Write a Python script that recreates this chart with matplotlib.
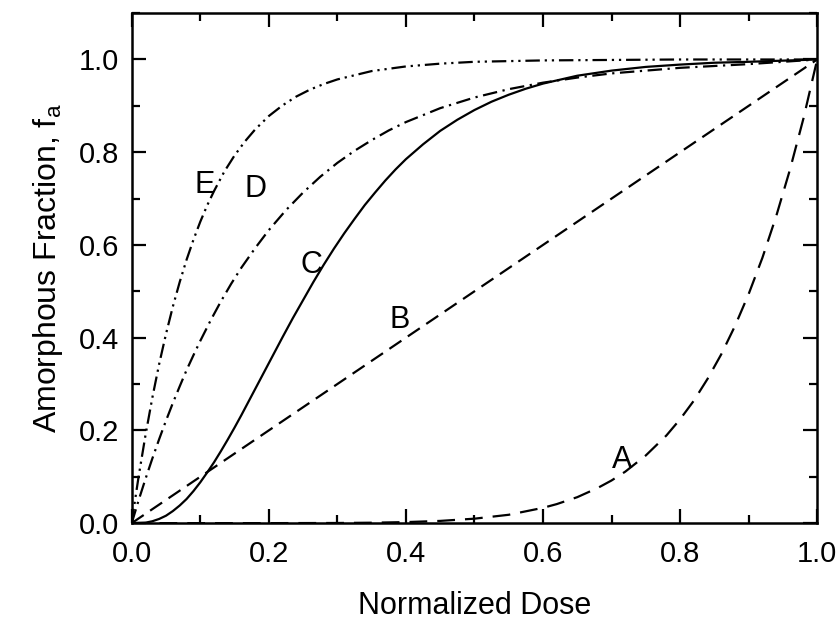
import numpy as np
import matplotlib
matplotlib.use("Agg")
import matplotlib.pyplot as plt
from matplotlib.ticker import MultipleLocator

plt.rcParams['font.family'] = ['Liberation Sans', 'DejaVu Sans']

# values
xA = [0.0, 0.2, 0.3, 0.35, 0.4, 0.45, 0.5, 0.55, 0.6, 0.62, 0.65, 0.68, 0.7, 0.72, 0.75, 0.78,
      0.8, 0.82, 0.84, 0.86, 0.88, 0.9, 0.92, 0.94, 0.96, 0.98, 1.0]
yA = [0.0, 0.0, 0.0003, 0.0009, 0.0022, 0.0048, 0.0096, 0.018, 0.033, 0.041, 0.056, 0.076, 0.092, 0.111, 0.146, 0.189,
      0.224, 0.264, 0.311, 0.364, 0.425, 0.494, 0.572, 0.661, 0.761, 0.873, 1.0]

xB = [0.0, 1.0]
yB = [0.0, 1.0]

xC = [0.0, 0.02, 0.03, 0.04, 0.05, 0.06, 0.07, 0.08, 0.09, 0.10, 0.11, 0.12, 0.13, 0.14, 0.15, 0.16,
      0.17, 0.18, 0.19, 0.20, 0.22, 0.235, 0.25, 0.265, 0.28, 0.295, 0.31, 0.325, 0.34, 0.355, 0.37,
      0.385, 0.40, 0.425, 0.45, 0.475, 0.50, 0.525, 0.55, 0.575, 0.60, 0.65, 0.70, 0.75, 0.80, 0.85,
      0.90, 1.0]
yC = [0.0, 0.001, 0.004, 0.009, 0.016, 0.026, 0.038, 0.052, 0.069, 0.088, 0.109, 0.131, 0.155, 0.180, 0.206, 0.233,
      0.261, 0.289, 0.317, 0.345, 0.401, 0.442, 0.481, 0.520, 0.557, 0.592, 0.625, 0.656, 0.686, 0.713, 0.739,
      0.763, 0.785, 0.817, 0.846, 0.870, 0.891, 0.909, 0.924, 0.937, 0.948, 0.965, 0.976, 0.984, 0.989, 0.993,
      0.995, 1.0]

xD = [0.0, 0.01, 0.02, 0.03, 0.04, 0.05, 0.06, 0.07, 0.08, 0.09, 0.10, 0.115, 0.13, 0.145, 0.16, 0.18,
      0.20, 0.225, 0.25, 0.275, 0.30, 0.325, 0.35, 0.375, 0.40, 0.45, 0.50, 0.55, 0.60, 0.65, 0.70,
      0.75, 0.80, 0.90, 1.0]
yD = [0.0, 0.049, 0.095, 0.139, 0.181, 0.221, 0.259, 0.295, 0.330, 0.362, 0.393, 0.437, 0.478, 0.516, 0.551, 0.593,
      0.632, 0.675, 0.713, 0.747, 0.777, 0.803, 0.826, 0.847, 0.865, 0.895, 0.918, 0.936, 0.950, 0.961, 0.970,
      0.976, 0.982, 0.990, 1.0]

xE = [0.0, 0.005, 0.01, 0.02, 0.03, 0.04, 0.05, 0.06, 0.07, 0.08, 0.09, 0.10, 0.11, 0.12, 0.135, 0.15,
      0.165, 0.18, 0.20, 0.22, 0.24, 0.26, 0.28, 0.30, 0.35, 0.40, 0.45, 0.50, 0.60, 0.80, 1.0]
yE = [0.0, 0.051, 0.100, 0.189, 0.270, 0.343, 0.408, 0.467, 0.520, 0.568, 0.611, 0.650, 0.685, 0.716, 0.758, 0.793,
      0.823, 0.849, 0.878, 0.901, 0.920, 0.935, 0.947, 0.957, 0.975, 0.985, 0.991, 0.995, 0.998, 1.0, 1.0]

labels = ['A', 'B', 'C', 'D', 'E']
label_x = [0.715, 0.391, 0.262, 0.18, 0.107]
label_y = [0.136, 0.438, 0.557, 0.72, 0.73]

fig = plt.figure(figsize=(8.39, 6.25), dpi=100)
ax = fig.add_axes([0.157, 0.163, 0.817, 0.816])

lw = 1.6
ax.plot(xA, yA, color='black', lw=lw, dashes=(8, 4.5))
ax.plot(xB, yB, color='black', lw=lw, dashes=(6.5, 3.5))
ax.plot(xC, yC, color='black', lw=lw)
ax.plot(xD, yD, color='black', lw=lw, dashes=(6.5, 2.5, 1.0, 2.5))
ax.plot(xE, yE, color='black', lw=lw, dashes=(6.5, 2.2, 1.0, 2.2, 1.0, 2.2))

for t, tx, ty in zip(labels, label_x, label_y):
    ax.text(tx, ty, t, fontsize=22, ha='center', va='center')

ax.set_xlim(0, 1.0)
ax.set_ylim(0, 1.1)
ax.xaxis.set_major_locator(MultipleLocator(0.2))
ax.xaxis.set_minor_locator(MultipleLocator(0.1))
ax.yaxis.set_major_locator(MultipleLocator(0.2))
ax.yaxis.set_minor_locator(MultipleLocator(0.1))
ax.tick_params(which='both', direction='in', top=True, right=True, labelsize=21, width=1.6)
ax.tick_params(axis='x', pad=12)
ax.tick_params(axis='y', pad=9)
ax.tick_params(which='major', length=10)
ax.tick_params(which='minor', length=6)
for s in ax.spines.values():
    s.set_linewidth(1.8)

ax.set_xlabel('Normalized Dose', fontsize=22, labelpad=17)
ax.set_ylabel('Amorphous Fraction, f$_\\mathregular{a}$', fontsize=23, labelpad=10)

fig.savefig('out.png', dpi=100)
